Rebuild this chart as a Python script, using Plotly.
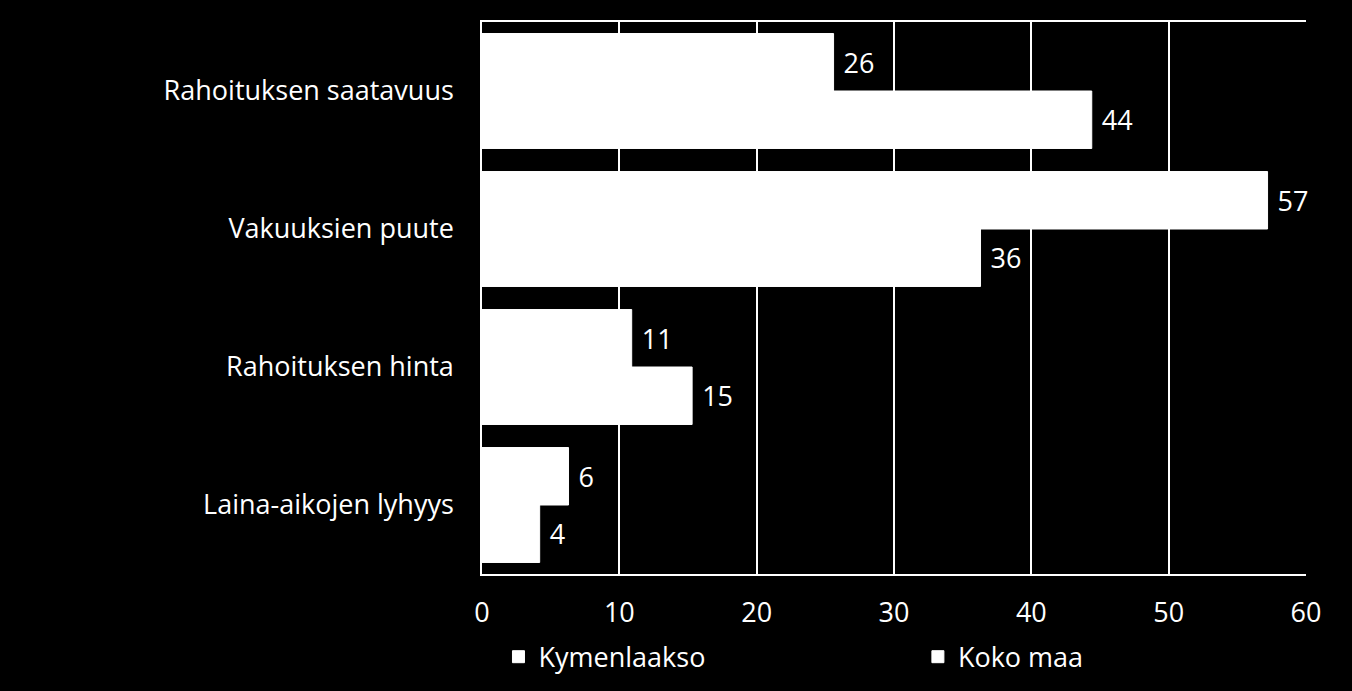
import plotly.graph_objects as go

categories = ["Rahoituksen saatavuus", "Vakuuksien puute", "Rahoituksen hinta", "Laina-aikojen lyhyys"]
kymenlaakso = [25.6, 57.2, 10.9, 6.3]
koko_maa = [44.4, 36.3, 15.3, 4.2]
x_ticks = [0, 10, 20, 30, 40, 50, 60]

font_name = "Open Sans"

fig = go.Figure()
fig.add_trace(go.Bar(y=categories, x=kymenlaakso, name="Kymenlaakso", orientation="h",
                     marker=dict(color="white", line=dict(color="white", width=1)), legend="legend",
                     text=kymenlaakso, texttemplate=" %{x:.0f}", textposition="outside",
                     textfont=dict(color="white", size=27, family=font_name), cliponaxis=False))
fig.add_trace(go.Bar(y=categories, x=koko_maa, name="Koko maa", orientation="h",
                     marker=dict(color="white", line=dict(color="white", width=1)), legend="legend2",
                     text=koko_maa, texttemplate=" %{x:.0f}", textposition="outside",
                     textfont=dict(color="white", size=27, family=font_name), cliponaxis=False))

# legends placed in the bottom margin, one per series
legend_style = dict(orientation="h", xanchor="left", yref="container", y=0.049, yanchor="middle",
                    font=dict(size=27, color="white"), itemwidth=30, bgcolor="rgba(0,0,0,0)")

fig.update_layout(
    width=1352, height=691,
    paper_bgcolor="black", plot_bgcolor="black",
    barmode="group", bargap=0.167, bargroupgap=0,
    margin=dict(l=482, r=46, t=22, b=117, autoexpand=False),
    font=dict(family=font_name, color="white", size=27),
    showlegend=True,
    legend=dict(x=0.02, **legend_style),
    legend2=dict(x=0.529, **legend_style),
    uniformtext=dict(minsize=27, mode="show"),
)
fig.update_xaxes(range=[0, 60], tickvals=x_ticks, showgrid=True, gridcolor="white", gridwidth=1.5,
                 showline=True, linecolor="white", linewidth=1.5, mirror=True,
                 ticks="", ticklabelstandoff=14, tickfont=dict(size=27, color="white"), zeroline=False)
fig.update_yaxes(autorange="reversed", showline=True, linecolor="white", linewidth=1.5,
                 ticks="", ticklabelstandoff=21, tickfont=dict(size=27, color="white"), showgrid=False)

fig.write_html("out.html", config={"displayModeBar": False},
               post_script="document.body.style.margin='0';")
